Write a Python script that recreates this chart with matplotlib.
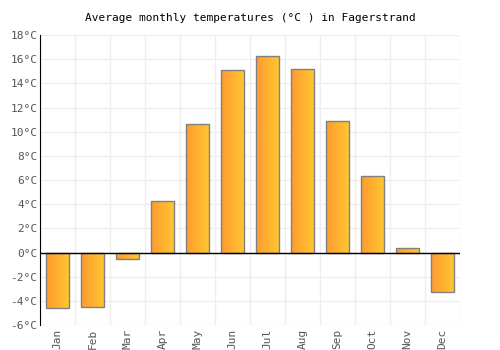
import matplotlib
matplotlib.use("Agg")
import matplotlib.pyplot as plt
import numpy as np
from matplotlib.colors import LinearSegmentedColormap

months = ["Jan", "Feb", "Mar", "Apr", "May", "Jun", "Jul", "Aug", "Sep", "Oct", "Nov", "Dec"]
temps = [-4.6, -4.5, -0.5, 4.3, 10.6, 15.1, 16.3, 15.2, 10.9, 6.3, 0.4, -3.3]
yticks = list(range(-6, 19, 2))
ytick_labels = [f"{t}°C" for t in yticks]
title = "Average monthly temperatures (°C ) in Fagerstrand"

plt.rcParams['font.family'] = ['DejaVu Sans Mono']
fig = plt.figure(figsize=(5, 3.5), dpi=100)
ax = fig.add_axes([0.08, 0.0714, 0.84, 0.8286])

x = np.arange(len(months))
bars = ax.bar(x, temps, width=0.66, color='none', edgecolor='#808080', linewidth=1, zorder=3)
cmap = LinearSegmentedColormap.from_list('g', ['#ff9a30', '#ffc830'])
grad = np.linspace(0, 1, 100).reshape(1, -1)
for b in bars:
    x0, y0 = b.get_x(), b.get_y()
    w, h = b.get_width(), b.get_height()
    im = ax.imshow(grad, cmap=cmap, aspect='auto', extent=[x0, x0 + w, min(y0, y0 + h), max(y0, y0 + h)], zorder=2)
    im.set_clip_path(b)

ax.set_xlim(-0.5, 11.5)
ax.set_ylim(-6, 18)
ax.set_yticks(yticks)
ax.set_yticklabels(ytick_labels)
ax.set_xticks(x)
ax.set_xticklabels(months, rotation=90)
ax.grid(False)
for t in yticks:
    ax.axhline(t, color='#eeeeee', linewidth=1, zorder=0)
for v in np.arange(-0.5, 12, 1):
    ax.axvline(v, color='#eeeeee', linewidth=1, zorder=0)
ax.axhline(0, color='black', linewidth=1, zorder=4)
for s in ['top', 'right', 'bottom']:
    ax.spines[s].set_visible(False)
ax.spines['left'].set_color('black')
ax.spines['left'].set_zorder(5)
ax.tick_params(axis='both', which='both', length=0, labelsize=8, labelcolor='#555555')
ax.tick_params(axis='x', pad=3)
ax.tick_params(axis='y', pad=2)
ax.set_title(title, fontsize=8, color='black', pad=10)

fig.savefig("out.png", dpi=100)
